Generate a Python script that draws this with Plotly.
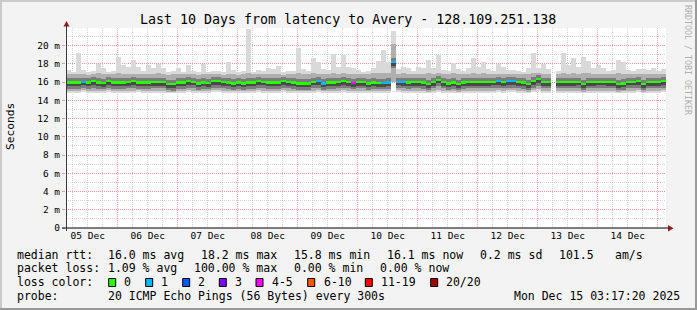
import plotly.graph_objects as go
import pandas as pd

# ---------------- data ----------------
start_time = "2025-12-05 03:17:20"
end_time = "2025-12-15 03:17:20"
bin_hours = 2  # one smoke column per 2 hours

median_rtt = [
    15.95, 15.95, 15.95, 16.05, 15.95, 16.1, 15.95, 15.9, 16.1, 15.95,
    15.95, 15.95, 16.0, 16.1, 15.95, 15.95, 15.95, 16.0, 16.0, 16.0,
    15.8, 15.75, 15.95, 15.95, 16.1, 16.05, 15.85, 15.95, 15.9, 16.1,
    16.1, 16.0, 15.95, 15.85, 15.95, 15.85, 15.95, 15.95, 16.1, 16.05,
    15.95, 15.95, 15.95, 16.1, 16.0, 15.95, 15.85, 15.85, 15.85, 16.05,
    16.1, 15.85, 15.95, 15.95, 16.0, 16.1, 16.0, 15.9, 16.0, 16.0,
    15.85, 15.95, 15.9, 15.9, 15.95, 18.2, 16.05, 16.0, 15.95, 16.0,
    16.0, 15.95, 15.8, 16.0, 16.25, 16.0, 15.85, 15.95, 15.8, 15.95,
    16.0, 16.0, 16.0, 16.0, 16.0, 16.05, 16.1, 16.0, 16.1, 16.1,
    16.0, 15.95, 15.8, 16.1, 16.3, 16.0, 16.0, None, 16.0, 16.0,
    16.0, 16.0, 16.05, 15.8, 16.0, 16.0, 16.05, 16.05, 16.0, 16.0,
    15.8, 15.85, 16.05, 16.05, 16.1, 15.8, 16.0, 16.0, 16.0, 16.1,
]

loss_count = [
    0, 0, 0, 1, 0, 0, 0, 0, 0, 0,
    0, 0, 0, 0, 0, 0, 0, 0, 0, 0,
    0, 0, 0, 0, 0, 0, 0, 0, 0, 0,
    0, 0, 0, 0, 0, 0, 0, 0, 0, 0,
    0, 0, 0, 0, 0, 0, 0, 0, 0, 0,
    1, 1, 0, 0, 0, 0, 0, 4, 0, 0,
    0, 0, 0, 1, 1, 1, 1, 1, 0, 0,
    0, 0, 0, 0, 0, 0, 0, 0, 0, 0,
    0, 0, 0, 0, 0, 0, 1, 0, 1, 1,
    0, 0, 0, 0, 0, 0, 0, 20, 0, 0,
    0, 0, 0, 0, 0, 0, 0, 0, 0, 0,
    0, 0, 0, 0, 0, 0, 0, 0, 0, 0,
]

ping_max = [
    17.3, 17.15, 19.15, 17.3, 17.1, 17.2, 18.0, 17.5, 17.15, 17.2,
    18.8, 17.85, 17.7, 18.4, 17.7, 17.2, 17.9, 17.5, 18.0, 17.5,
    17.15, 17.2, 17.55, 17.15, 17.85, 17.2, 17.1, 18.0, 17.15, 17.2,
    17.2, 17.15, 18.2, 17.3, 17.15, 17.2, 21.8, 17.15, 17.3, 17.2,
    17.55, 17.4, 17.8, 17.15, 17.2, 17.2, 19.7, 17.4, 17.2, 18.6,
    18.2, 17.4, 17.3, 19.1, 17.6, 19.0, 17.6, 17.5, 17.3, 17.15,
    17.2, 17.5, 18.3, 19.5, 18.15, 21.6, 17.4, 17.7, 17.5, 17.2,
    17.7, 17.5, 18.4, 17.5, 19.0, 17.3, 17.2, 18.1, 17.4, 17.2,
    17.5, 18.65, 17.7, 18.15, 17.4, 17.2, 18.0, 17.7, 17.3, 17.3,
    17.2, 17.15, 17.5, 19.15, 17.5, 18.0, 17.4, None, 17.2, 19.2,
    17.85, 18.65, 17.6, 18.8, 18.3, 17.5, 17.85, 17.55, 17.2, 17.3,
    18.4, 18.2, 17.3, 17.2, 17.4, 17.4, 17.3, 17.55, 17.2, 17.4,
]

ping_p90 = [
    16.9, 16.85, 16.9, 16.85, 16.8, 16.85, 16.95, 16.9, 16.85, 16.85,
    16.95, 16.9, 16.85, 16.9, 16.85, 16.85, 16.9, 16.85, 16.95, 16.9,
    16.8, 16.85, 16.9, 16.85, 16.9, 16.85, 16.8, 16.9, 16.85, 16.85,
    16.85, 16.8, 16.9, 16.85, 16.8, 16.85, 16.95, 16.85, 16.85, 16.85,
    16.9, 16.85, 16.9, 16.8, 16.85, 16.85, 17.0, 16.85, 16.85, 16.95,
    16.9, 16.85, 16.85, 16.95, 16.9, 16.95, 16.9, 16.9, 16.85, 16.85,
    16.9, 16.95, 17.0, 17.05, 17.0, 20.2, 16.9, 16.95, 16.9, 16.85,
    16.9, 16.9, 16.95, 16.85, 17.0, 16.85, 16.85, 16.95, 16.85, 16.85,
    16.9, 16.95, 16.9, 16.95, 16.85, 16.85, 16.9, 16.9, 16.85, 16.85,
    16.85, 16.85, 16.9, 17.0, 16.95, 16.9, 16.85, None, 16.85, 16.95,
    16.9, 16.95, 16.9, 16.95, 16.95, 16.85, 16.9, 16.9, 16.85, 16.85,
    16.95, 16.9, 16.85, 16.85, 16.9, 16.85, 16.85, 16.9, 16.85, 16.9,
]

ping_p10 = [
    15.05, 15.0, 15.05, 15.1, 15.05, 15.05, 15.0, 15.05, 15.1, 15.05,
    15.05, 15.0, 15.05, 15.05, 15.1, 15.05, 15.05, 15.0, 15.05, 15.05,
    14.95, 14.95, 15.05, 15.05, 15.1, 15.05, 15.0, 15.05, 15.05, 15.1,
    15.1, 15.05, 15.05, 15.0, 15.05, 15.0, 15.05, 15.05, 15.1, 15.05,
    15.05, 15.05, 15.05, 15.1, 15.05, 15.05, 15.0, 15.0, 15.0, 15.05,
    15.1, 15.0, 15.05, 15.05, 15.05, 15.1, 15.05, 15.0, 15.05, 15.05,
    15.0, 15.05, 15.05, 15.05, 15.05, 16.05, 15.1, 15.05, 15.05, 15.05,
    15.05, 15.05, 14.95, 15.05, 15.15, 15.05, 15.0, 15.05, 14.95, 15.05,
    15.05, 15.05, 15.05, 15.05, 15.05, 15.05, 15.1, 15.05, 15.1, 15.1,
    15.05, 15.05, 14.95, 15.1, 15.2, 15.05, 15.05, None, 15.05, 15.05,
    15.05, 15.05, 15.05, 14.95, 15.05, 15.05, 15.05, 15.05, 15.05, 15.05,
    14.95, 15.0, 15.05, 15.05, 15.1, 14.95, 15.05, 15.05, 15.05, 15.1,
]

ping_min = [
    14.85, 14.8, 14.85, 14.9, 14.85, 14.85, 14.8, 14.85, 14.9, 14.85,
    14.85, 14.8, 14.85, 14.85, 14.9, 14.85, 14.85, 14.8, 14.85, 14.85,
    14.75, 14.75, 14.85, 14.85, 14.9, 14.85, 14.8, 14.85, 14.85, 14.9,
    14.9, 14.85, 14.85, 14.8, 14.85, 14.8, 14.85, 14.85, 14.9, 14.85,
    14.85, 14.85, 14.85, 14.9, 14.85, 14.85, 14.8, 14.8, 14.8, 14.85,
    14.9, 14.8, 14.85, 14.85, 14.85, 14.9, 14.85, 14.8, 14.85, 14.85,
    14.8, 14.85, 14.85, 14.85, 14.85, 16.0, 14.9, 14.85, 14.85, 14.85,
    14.85, 14.85, 14.75, 14.85, 14.95, 14.85, 14.8, 14.85, 14.75, 14.85,
    14.85, 14.85, 14.85, 14.85, 14.85, 14.85, 14.9, 14.85, 14.9, 14.9,
    14.85, 14.85, 14.75, 14.9, 15.0, 14.85, 14.85, None, 14.85, 14.85,
    14.85, 14.85, 14.85, 14.75, 14.85, 14.85, 14.85, 14.85, 14.85, 14.85,
    14.75, 14.8, 14.85, 14.85, 14.9, 14.75, 14.85, 14.85, 14.85, 14.9,
]

# spread (below, above) of the darker inner smoke layers around the median, ms
core_spread = (0.7, 0.45)
inner_spread = (0.4, 0.12)

day_labels = ["05 Dec", "06 Dec", "07 Dec", "08 Dec", "09 Dec",
              "10 Dec", "11 Dec", "12 Dec", "13 Dec", "14 Dec"]
day_label_times = ["2025-12-05 12:00", "2025-12-06 12:00", "2025-12-07 12:00",
                   "2025-12-08 12:00", "2025-12-09 12:00", "2025-12-10 12:00",
                   "2025-12-11 12:00", "2025-12-12 12:00", "2025-12-13 12:00",
                   "2025-12-14 12:00"]
y_tick_values = [0, 2, 4, 6, 8, 10, 12, 14, 16, 18, 20]
y_tick_labels = ["0", "2 m", "4 m", "6 m", "8 m", "10 m", "12 m",
                 "14 m", "16 m", "18 m", "20 m"]

loss_names = ["0", "1", "2", "3", "4-5", "6-10", "11-19", "20/20"]
loss_upper = [0, 1, 2, 3, 5, 10, 19, 20]
loss_colors = ["#26ff00", "#00b8ff", "#0059ff", "#7e00ff",
               "#ff00ff", "#ff5500", "#ff0000", "#a10000"]

title_text = "Last 10 Days from latency to Avery - 128.109.251.138"
rtt_stats = ["16.0 ms avg", "18.2 ms max", "15.8 ms min", "16.1 ms now",
             "0.2 ms sd", "101.5", "am/s"]
loss_stats = ["1.09 % avg", "100.00 % max", "0.00 % min", "0.00 % now"]
probe_text = "20 ICMP Echo Pings (56 Bytes) every 300s"
stamp_text = "Mon Dec 15 03:17:20 2025"

# ---------------- layout geometry (pixels) ----------------
W_TOTAL, H_TOTAL = 697, 310
L, T, PW, PH = 66, 28, 600, 200
R = W_TOTAL - L - PW
B = H_TOTAL - T - PH
Y_TOP = 21.93
MONO = "DejaVu Sans Mono"


def px_x(px):
    return (px - L) / PW


def px_y(py):
    return (T + PH - py) / PH


# ---------------- build traces ----------------
t0 = pd.Timestamp(start_time)
n = len(median_rtt)
centers = [t0 + pd.Timedelta(hours=bin_hours * (i + 0.5)) for i in range(n)]
width_ms = bin_hours * 3600 * 1000


def band(lows, highs):
    base, h = [], []
    for a, b in zip(lows, highs):
        if a is None or b is None:
            base.append(None)
            h.append(None)
        else:
            base.append(a)
            h.append(b - a)
    return base, h


def clip_spread(spread):
    lows, highs = [], []
    for m, lo, hi in zip(median_rtt, ping_min, ping_max):
        if m is None:
            lows.append(None)
            highs.append(None)
        else:
            lows.append(max(lo, m - spread[0]))
            highs.append(min(hi, m + spread[1]))
    return lows, highs


core_lo, core_hi = clip_spread(core_spread)
inner_lo, inner_hi = clip_spread(inner_spread)

layers = [
    (ping_min, ping_max, "#d9d9d9"),
    (ping_p10, ping_p90, "#afafaf"),
    (core_lo, core_hi, "#7c7c7c"),
    (inner_lo, inner_hi, "#4a4a4a"),
]

fig = go.Figure()
for lows, highs, col in layers:
    base, h = band(lows, highs)
    fig.add_trace(go.Bar(x=centers, y=h, base=base, width=[width_ms] * n,
                         marker=dict(color=col, line=dict(width=0)),
                         hoverinfo="skip", showlegend=False))


def loss_color(c):
    for up, col in zip(loss_upper, loss_colors):
        if c <= up:
            return col
    return loss_colors[-1]


med_thick = 0.24
med_base = [None if m is None else m - med_thick / 2 for m in median_rtt]
med_h = [None if m is None else med_thick for m in median_rtt]
fig.add_trace(go.Bar(x=centers, y=med_h, base=med_base, width=[width_ms] * n,
                     marker=dict(color=[loss_color(c) for c in loss_count],
                                 line=dict(width=0)),
                     hoverinfo="skip", showlegend=False))

# carrier for the grid axis (midnight / 6h grid)
fig.add_trace(go.Scatter(x=[start_time, end_time], y=[None, None], xaxis="x2",
                         mode="lines", hoverinfo="skip", showlegend=False))

major_grid = "rgba(255,94,94,0.5)"
minor_grid = "rgba(170,170,170,0.5)"
dash = "1px,1px"

fig.update_layout(
    width=W_TOTAL, height=H_TOTAL, autosize=False,
    margin=dict(l=L, r=R, t=T, b=B, pad=0),
    paper_bgcolor="#f3f3f3", plot_bgcolor="#ffffff",
    barmode="overlay", bargap=0, showlegend=False,
    font=dict(family=MONO, size=11.5, color="#000000"),
    xaxis=dict(type="date", range=[start_time, end_time], tickmode="array",
               tickvals=day_label_times, ticktext=day_labels,
               showgrid=False, zeroline=False, showline=False, ticks="",
               tickfont=dict(family=MONO, size=9.5, color="#000000"),
               fixedrange=True),
    xaxis2=dict(type="date", overlaying="x", range=[start_time, end_time],
                showticklabels=False, tickmode="linear",
                tick0="2025-12-05 00:00", dtick=86400000,
                showgrid=True, gridcolor=major_grid, griddash=dash, gridwidth=1,
                minor=dict(tickmode="linear", tick0="2025-12-05 00:00",
                           dtick=21600000, showgrid=True, gridcolor=minor_grid,
                           griddash=dash, gridwidth=1),
                zeroline=False, showline=False, ticks="", fixedrange=True),
    yaxis=dict(range=[0, Y_TOP], tickmode="array", tickvals=y_tick_values,
               ticktext=y_tick_labels, showgrid=True, gridcolor=major_grid,
               griddash=dash, gridwidth=1,
               minor=dict(tickmode="linear", tick0=0, dtick=1, showgrid=True,
                          gridcolor=minor_grid, griddash=dash, gridwidth=1),
               zeroline=False, showline=False, ticks="outside", ticklen=3,
               tickcolor="#e8a0a0",
               tickfont=dict(family=MONO, size=9.5, color="#000000"),
               fixedrange=True),
)

# ---------------- decorations ----------------
shapes = []
# axis lines
shapes.append(dict(type="line", xref="paper", yref="paper",
                   x0=px_x(62), x1=px_x(669), y0=px_y(228), y1=px_y(228),
                   line=dict(color="#000000", width=1)))
shapes.append(dict(type="line", xref="paper", yref="paper",
                   x0=px_x(66.5), x1=px_x(66.5), y0=px_y(231), y1=px_y(24),
                   line=dict(color="#3a3a3a", width=1)))
# arrows
shapes.append(dict(type="path", xref="paper", yref="paper",
                   path="M {} {} L {} {} L {} {} Z".format(
                       px_x(63.5), px_y(26.5), px_x(69.5), px_y(26.5),
                       px_x(66.5), px_y(21)),
                   fillcolor="#8b1d1d", line=dict(width=0)))
shapes.append(dict(type="path", xref="paper", yref="paper",
                   path="M {} {} L {} {} L {} {} Z".format(
                       px_x(668), px_y(225), px_x(668), px_y(231.5),
                       px_x(673.5), px_y(228.3)),
                   fillcolor="#8b1d1d", line=dict(width=0)))
# 3D frame
shapes.append(dict(type="line", xref="paper", yref="paper",
                   x0=px_x(0), x1=px_x(697), y0=px_y(1), y1=px_y(1),
                   line=dict(color="#cbcbcb", width=2)))
shapes.append(dict(type="line", xref="paper", yref="paper",
                   x0=px_x(1), x1=px_x(1), y0=px_y(0), y1=px_y(310),
                   line=dict(color="#cbcbcb", width=2)))
shapes.append(dict(type="line", xref="paper", yref="paper",
                   x0=px_x(696), x1=px_x(696), y0=px_y(0), y1=px_y(310),
                   line=dict(color="#999999", width=2)))
shapes.append(dict(type="line", xref="paper", yref="paper",
                   x0=px_x(0), x1=px_x(697), y0=px_y(309), y1=px_y(309),
                   line=dict(color="#999999", width=2)))

# loss colour boxes
box_x = [108.7, 145.7, 182.7, 219.3, 256, 307.7, 365.3, 430.7]
label_x = [123.3, 160, 196.7, 234.3, 271, 322.7, 380.3, 445.3]
for bx, col in zip(box_x, loss_colors):
    shapes.append(dict(type="rect", xref="paper", yref="paper",
                       x0=px_x(bx), x1=px_x(bx + 7), y0=px_y(286.5),
                       y1=px_y(278.5), fillcolor=col,
                       line=dict(color="#000000", width=1)))

annotations = []


def label(text, px, py, size=11.5, anchor="left", color="#000000", angle=0):
    annotations.append(dict(text=text, x=px_x(px), y=px_y(py), xref="paper",
                            yref="paper", xanchor=anchor, yanchor="middle",
                            showarrow=False, borderpad=0, textangle=angle,
                            font=dict(family=MONO, size=size, color=color)))


label(title_text, 348, 19, size=13.3, anchor="center")
label("Seconds", 10, 127, size=11.2, anchor="center", angle=-90)
label("RRDTOOL / TOBI OETIKER", 688, 60, size=8.3, anchor="center",
      color="#b0b0b0", angle=90)

row_y = [254.5, 268.2, 282.4, 295.9]
label("median rtt:", 16, row_y[0])
for txt, xx in zip(rtt_stats, [107.3, 200, 293.3, 386, 479.3, 558.3, 614]):
    label(txt, xx, row_y[0])
label("packet loss:", 16, row_y[1])
for txt, xx in zip(loss_stats, [107.3, 193.3, 293.3, 379.3]):
    label(txt, xx, row_y[1])
label("loss color:", 16, row_y[2])
for txt, xx in zip(loss_names, label_x):
    label(txt, xx, row_y[2])
label("probe:", 16, row_y[3])
label(probe_text, 107.3, row_y[3])
label(stamp_text, 512.7, row_y[3])

fig.update_layout(shapes=shapes, annotations=annotations)

fig.write_html("out.html", config={"displayModeBar": False})
